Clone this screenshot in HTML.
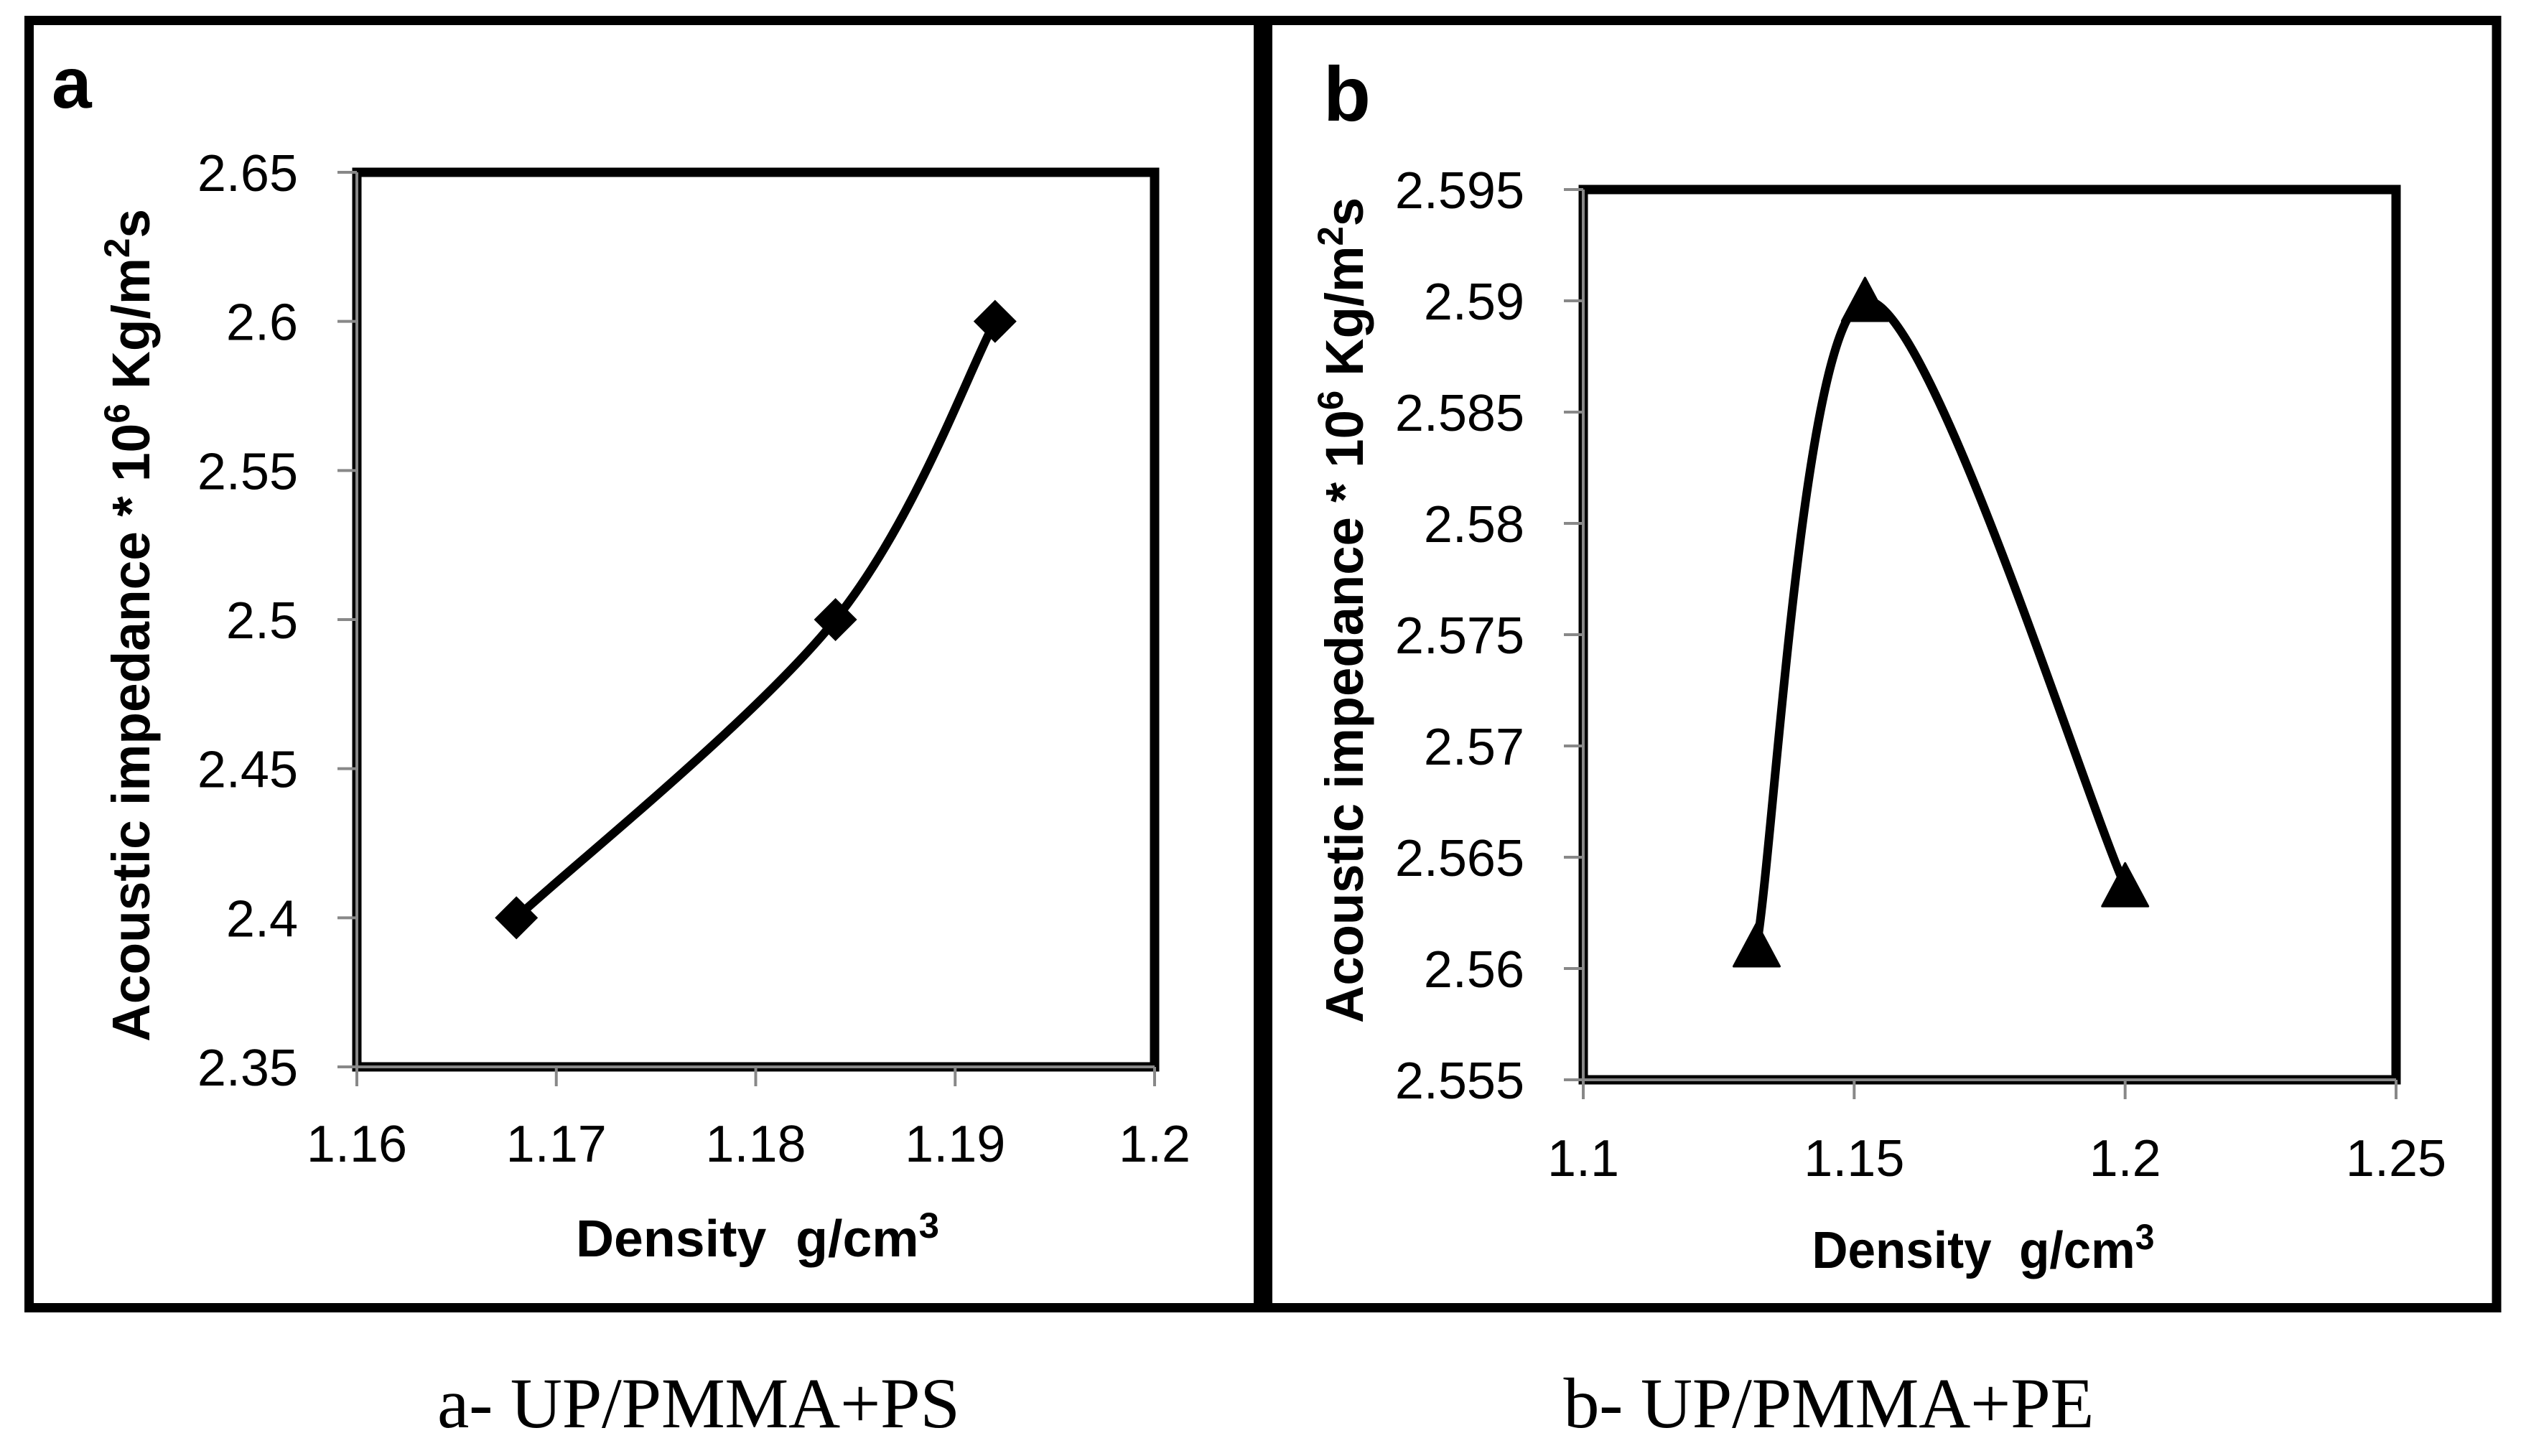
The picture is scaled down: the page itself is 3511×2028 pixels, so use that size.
<!DOCTYPE html>
<html><head><meta charset="utf-8"><style>
html,body{margin:0;padding:0;background:#fff;}
svg{display:block;}
text{font-family:"Liberation Sans",sans-serif;fill:#000;}
</style></head><body>
<svg id="fig" width="3511" height="2028" viewBox="0 0 3511 2028" xmlns="http://www.w3.org/2000/svg">
<rect x="0" y="0" width="3511" height="2028" fill="#fff"/>
<rect x="40.5" y="28.5" width="1718" height="1793" fill="none" stroke="#000" stroke-width="13"/>
<rect x="1759" y="28.5" width="1718" height="1793" fill="none" stroke="#000" stroke-width="13"/>
<rect x="1746" y="22" width="26" height="1806" fill="#000"/>
<text x="72" y="150" font-size="100" font-weight="bold">a</text>
<text x="1843" y="168" font-size="108" font-weight="bold">b</text>
<text x="973" y="1988" font-size="100" text-anchor="middle" textLength="728" style="font-family:'Liberation Serif',serif">a- UP/PMMA+PS</text>
<text x="2547" y="1988" font-size="100" text-anchor="middle" textLength="739" style="font-family:'Liberation Serif',serif">b- UP/PMMA+PE</text>
<g id="chartA"></g>
<g id="chartB"></g>
</svg>
<script>
// Chart A data
const aX = [1.168, 1.184, 1.192];
const aY = [2.40, 2.50, 2.60];
const aXTicks = [1.16, 1.17, 1.18, 1.19, 1.2];
const aXTickLabels = ["1.16", "1.17", "1.18", "1.19", "1.2"];
const aYTicks = [2.35, 2.4, 2.45, 2.5, 2.55, 2.6, 2.65];
const aYTickLabels = ["2.35", "2.4", "2.45", "2.5", "2.55", "2.6", "2.65"];
// Chart B data
const bX = [1.132, 1.152, 1.2];
const bY = [2.561, 2.590, 2.5637];
const bXTicks = [1.1, 1.15, 1.2, 1.25];
const bXTickLabels = ["1.1", "1.15", "1.2", "1.25"];
const bYTicks = [2.555, 2.56, 2.565, 2.57, 2.575, 2.58, 2.585, 2.59, 2.595];
const bYTickLabels = ["2.555", "2.56", "2.565", "2.57", "2.575", "2.58", "2.585", "2.59", "2.595"];

const NS = "http://www.w3.org/2000/svg";
function mk(tag, attrs, parent) {
  const e = document.createElementNS(NS, tag);
  for (const k in attrs) e.setAttribute(k, attrs[k]);
  parent.appendChild(e);
  return e;
}
function smoothPath(pts) {
  let d = "M" + pts[0][0] + "," + pts[0][1];
  for (let i = 0; i < pts.length - 1; i++) {
    const p0 = pts[Math.max(0, i - 1)], p1 = pts[i], p2 = pts[i + 1], p3 = pts[Math.min(pts.length - 1, i + 2)];
    const c1 = [p1[0] + (p2[0] - p0[0]) / 6, p1[1] + (p2[1] - p0[1]) / 6];
    const c2 = [p2[0] - (p3[0] - p1[0]) / 6, p2[1] - (p3[1] - p1[1]) / 6];
    d += " C" + c1[0] + "," + c1[1] + " " + c2[0] + "," + c2[1] + " " + p2[0] + "," + p2[1];
  }
  return d;
}
function drawChart(g, cfg) {
  const sx = v => cfg.x0 + (v - cfg.xmin) / (cfg.xmax - cfg.xmin) * (cfg.x1 - cfg.x0);
  const sy = v => cfg.yb + (v - cfg.ymin) / (cfg.ymax - cfg.ymin) * (cfg.yt - cfg.yb);
  const frame = mk("rect", {x: cfg.x0, y: cfg.yt, width: cfg.x1 - cfg.x0, height: cfg.yb - cfg.yt, fill: "none", stroke: "#000", "stroke-width": 13}, g);
  
  
  const ya = mk("line", {x1: cfg.x0, y1: cfg.yt, x2: cfg.x0, y2: cfg.yb, stroke: "#888", "stroke-width": 4}, g);
  
  
  const xa = mk("line", {x1: cfg.x0, y1: cfg.yb, x2: cfg.x1, y2: cfg.yb, stroke: "#888", "stroke-width": 4}, g);
  
  
  cfg.yTicks.forEach((v, i) => {
    const y = sy(v);
    const t = mk("line", {x1: cfg.x0 - 27, y1: y, x2: cfg.x0, y2: y, stroke: "#888", "stroke-width": 4}, g);
    
    
    const l = mk("text", {x: cfg.yLabelRight, y: y + 26, "font-size": 72, "text-anchor": "end"}, g);
    l.textContent = cfg.yTickLabels[i];
    
    
  });
  cfg.xTicks.forEach((v, i) => {
    const x = sx(v);
    const t = mk("line", {x1: x, y1: cfg.yb, x2: x, y2: cfg.yb + 27, stroke: "#888", "stroke-width": 4}, g);
    
    
    const l = mk("text", {x: x, y: cfg.xLabelY, "font-size": 72, "text-anchor": "middle"}, g);
    l.textContent = cfg.xTickLabels[i];
    
    
  });
  const pts = cfg.xs.map((v, i) => [sx(v), sy(cfg.ys[i])]);
  const line = mk("path", {d: smoothPath(pts), fill: "none", stroke: "#000", "stroke-width": 12, "stroke-linejoin": "round"}, g);
  
  
  pts.forEach(p => {
    let m;
    if (cfg.marker === "diamond") {
      m = mk("polygon", {points: `${p[0]},${p[1]-30} ${p[0]+30},${p[1]} ${p[0]},${p[1]+30} ${p[0]-30},${p[1]}`, fill: "#000"}, g);
    } else {
      m = mk("polygon", {points: `${p[0]},${p[1]-32} ${p[0]+32},${p[1]+28} ${p[0]-32},${p[1]+28}`, fill: "#000", stroke: "#000", "stroke-width": 3, "stroke-linejoin": "round"}, g);
    }
    
    
  });
  const xt = mk("text", {x: cfg.xTitleX, y: cfg.xTitleY, "font-size": 72, "font-weight": "bold", "text-anchor": "middle", textLength: cfg.xTitleLen, lengthAdjust: "spacingAndGlyphs"}, g);
  xt.innerHTML = 'Density&#160; g/cm<tspan font-size="50" dy="-26">3</tspan>';
  
  
  const yt = mk("text", {x: 0, y: 0, "font-size": 74, "font-weight": "bold", "text-anchor": "middle", textLength: cfg.yTitleLen, lengthAdjust: "spacingAndGlyphs", transform: `translate(${cfg.yTitleX},${cfg.yTitleY}) rotate(-90)`}, g);
  yt.innerHTML = 'Acoustic impedance * 10<tspan font-size="50" dy="-28">6</tspan><tspan dy="28"> Kg/m</tspan><tspan font-size="50" dy="-28">2</tspan><tspan dy="28">s</tspan>';
  
  
}
drawChart(document.getElementById("chartA"), {
  x0: 497, x1: 1608, yt: 240, yb: 1486, xmin: 1.16, xmax: 1.2, ymin: 2.35, ymax: 2.65,
  xTicks: aXTicks, xTickLabels: aXTickLabels, yTicks: aYTicks, yTickLabels: aYTickLabels,
  xs: aX, ys: aY, marker: "diamond", yLabelRight: 415, xLabelY: 1618,
  xTitleX: 1055, xTitleY: 1750, xTitleLen: 506, yTitleX: 208, yTitleY: 871, yTitleLen: 1160
});
drawChart(document.getElementById("chartB"), {
  x0: 2205, x1: 3337, yt: 264, yb: 1504, xmin: 1.1, xmax: 1.25, ymin: 2.555, ymax: 2.595,
  xTicks: bXTicks, xTickLabels: bXTickLabels, yTicks: bYTicks, yTickLabels: bYTickLabels,
  xs: bX, ys: bY, marker: "triangle", yLabelRight: 2123, xLabelY: 1638,
  xTitleX: 2762, xTitleY: 1766, xTitleLen: 477, yTitleX: 1898, yTitleY: 850, yTitleLen: 1150
});
</script>
</body></html>
